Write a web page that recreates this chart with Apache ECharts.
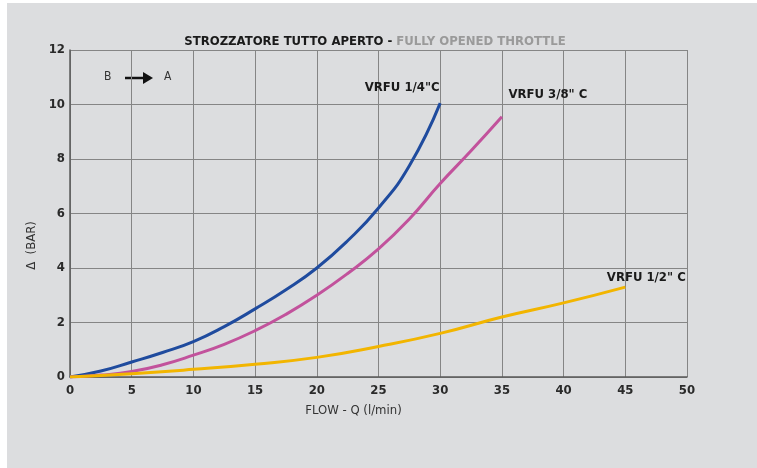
<!DOCTYPE html>
<html lang="it">
<head>
<meta charset="UTF-8">
<title>Strozzatore tutto aperto</title>
<script src="https://cdn.jsdelivr.net/npm/echarts@6/dist/echarts.min.js"></script>
<style>
  html, body { margin: 0; padding: 0; background: #fff; }
  #chart { position: absolute; left: 7px; top: 3px; width: 750px; height: 465px; background: #dcdddf; }
</style>
</head>
<body>
<div id="chart"></div>
<script>
    // flow (l/min) -> pressure drop (bar)
    const flow14 = [0, 2.5, 5, 7.5, 10, 12.5, 15, 17.5, 20, 22.5, 25, 27.5, 30];
    const bar14 = [0, 0.22, 0.55, 0.9, 1.3, 1.85, 2.5, 3.2, 4.0, 5.0, 6.2, 7.75, 10.05];

    const flow38 = [0, 2.5, 5, 7.5, 10, 12.5, 15, 17.5, 20, 22.5, 25, 27.5, 30, 32.5, 35];
    const bar38 = [0, 0.07, 0.2, 0.45, 0.8, 1.2, 1.7, 2.3, 3.0, 3.8, 4.7, 5.8, 7.1, 8.3, 9.55];

    const flow12 = [0, 5, 10, 15, 20, 25, 30, 35, 40, 45];
    const bar12 = [0, 0.12, 0.28, 0.47, 0.72, 1.12, 1.6, 2.2, 2.72, 3.3];

    const names = ['VRFU 1/4"C', 'VRFU 3/8" C', 'VRFU 1/2" C'];
    const colors = ['#1f4b9e', '#c2529c', '#f2b500'];
    const labelOffsets = [[-38, -4], [46, -11], [21, 2]];

    const font = "'Liberation Sans Narrow', 'DejaVu Sans Condensed', sans-serif";

    function pairs(xs, ys, i) {
        return xs.map((x, k) => {
            const item = { value: [x, ys[k]] };
            if (k === xs.length - 1) {
                item.label = {
                    show: true,
                    position: 'top',
                    distance: 5,
                    offset: labelOffsets[i],
                    formatter: names[i],
                    color: '#1a1a1a',
                    fontFamily: font,
                    fontWeight: 'bold',
                    fontSize: 13
                };
            }
            return item;
        });
    }

    const chart = echarts.init(document.querySelector('#chart'));

    chart.setOption({
        animation: false,
        title: {
            text: '{a|STROZZATORE TUTTO APERTO - }{b|FULLY OPENED THROTTLE}',
            left: 363,
            top: 27,
            textAlign: 'center',
            textStyle: {
                rich: {
                    a: { fontFamily: font, fontWeight: 'bold', fontSize: 13, color: '#1a1a1a' },
                    b: { fontFamily: font, fontSize: 13, color: '#9a9a9a' }
                }
            }
        },
        grid: { left: 63, top: 47, right: 70, bottom: 91 },
        xAxis: {
            type: 'value',
            min: 0,
            max: 50,
            interval: 5,
            name: 'FLOW - Q (l/min)',
            nameLocation: 'middle',
            nameGap: 27,
            nameTextStyle: { fontFamily: font, fontSize: 13, color: '#333', padding: [0, 50, 0, 0] },
            axisLine: { lineStyle: { color: '#5a5a5a', width: 1.5 } },
            axisTick: { show: false },
            axisLabel: { fontFamily: font, fontWeight: 'bold', fontSize: 13, color: '#2a2a2a', margin: 7 },
            splitLine: { lineStyle: { color: '#858585', width: 1 } }
        },
        yAxis: {
            type: 'value',
            min: 0,
            max: 12,
            interval: 2,
            name: '\u0394  (BAR)',
            nameLocation: 'middle',
            nameGap: 24,
            nameTextStyle: { fontFamily: font, fontSize: 13, color: '#333', padding: [0, 64, 0, 0] },
            axisLine: { show: true, lineStyle: { color: '#5a5a5a', width: 1.5 } },
            axisTick: { show: false },
            axisLabel: { fontFamily: font, fontWeight: 'bold', fontSize: 13, color: '#2a2a2a', margin: 5 },
            splitLine: { lineStyle: { color: '#858585', width: 1 } }
        },
        graphic: [
            { type: 'text', left: 97, top: 68, style: { text: 'B', font: '12px ' + font, fill: '#333' } },
            { type: 'line', shape: { x1: 118, y1: 75, x2: 138, y2: 75 }, style: { stroke: '#111', lineWidth: 2.5 } },
            { type: 'polygon', shape: { points: [[136, 69], [146, 75], [136, 81]] }, style: { fill: '#111' } },
            { type: 'text', left: 157, top: 68, style: { text: 'A', font: '12px ' + font, fill: '#333' } }
        ],
        series: [
            { type: 'line', smooth: true, symbol: 'circle', symbolSize: 0, lineStyle: { color: colors[0], width: 3 }, data: pairs(flow14, bar14, 0) },
            { type: 'line', smooth: true, symbol: 'circle', symbolSize: 0, lineStyle: { color: colors[1], width: 3 }, data: pairs(flow38, bar38, 1) },
            { type: 'line', smooth: true, symbol: 'circle', symbolSize: 0, lineStyle: { color: colors[2], width: 3 }, data: pairs(flow12, bar12, 2) }
        ]
    });
</script>
</body>
</html>
